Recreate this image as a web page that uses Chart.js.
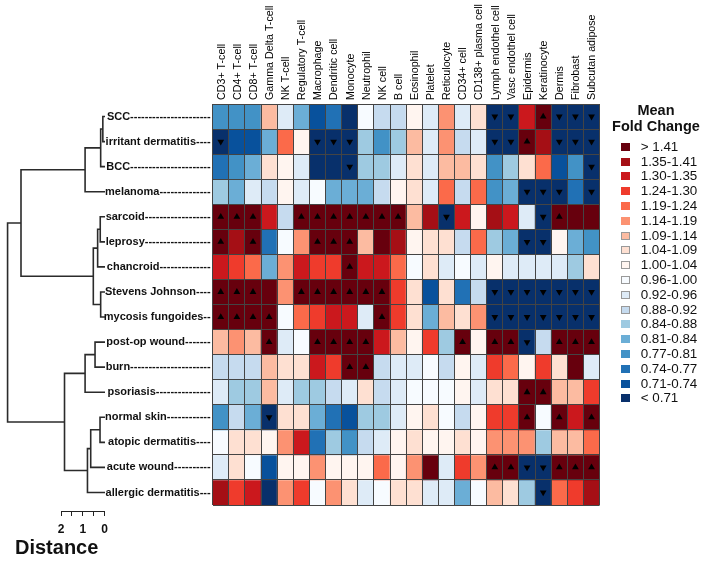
<!DOCTYPE html>
<html><head><meta charset="utf-8">
<script src="https://cdn.jsdelivr.net/npm/chart.js@4.4.1/dist/chart.umd.min.js"></script>
<style>
html,body{margin:0;padding:0;background:#fff;}
#wrap{position:relative;width:706px;height:564px;overflow:hidden;font-family:"Liberation Sans",Arial,sans-serif;}
canvas{position:absolute;}
#legend{position:absolute;left:600px;top:0;width:112px;height:420px;}
.lt{position:absolute;left:0;width:112px;text-align:center;font-weight:bold;font-size:14.5px;line-height:17px;color:#111;}
.li{position:absolute;left:40.7px;font-size:13.4px;line-height:14px;color:#111;white-space:nowrap;}
.lb{position:absolute;left:21px;width:9px;height:8px;box-sizing:border-box;border:1px solid #999;}
</style></head>
<body><div id="wrap">
<canvas id="heat" width="706" height="564" style="left:0;top:0"></canvas>
<canvas id="dendro" width="106" height="564" style="left:0;top:0"></canvas>
<canvas id="scalebar" width="130" height="84" style="left:0;top:480px"></canvas>
<div id="legend"></div>
</div>
<script>
// ---------- data ----------
const columns = ['CD3+ T-cell','CD4+ T-cell','CD8+ T-cell','Gamma Delta T-cell','NK T-cell','Regulatory T-cell','Macrophage','Dendritic cell','Monocyte','Neutrophil','NK cell','B cell','Eosinophil','Platelet','Reticulocyte','CD34+ cell','CD138+ plasma cell','Lymph endothel cell','Vasc endothel cell','Epidermis','Keratinocyte','Dermis','Fibrobast','Subcutan adipose'];
const diseases = ['SCC','irritant dermatitis','BCC','melanoma','sarcoid','leprosy','chancroid','Stevens Johnson','mycosis fungoides','post-op wound','burn','psoriasis','normal skin','atopic dermatitis','acute wound','allergic dermatitis'];

// mean fold change per cell type (column order above)
const fcSCC        = [0.79,0.79,0.79,1.11,0.94,0.82,0.72,0.75,0.68,0.98,0.90,0.90,1.02,0.94,1.16,0.94,1.06,0.68,0.68,1.32,1.45,0.68,0.68,0.68];
const fcIrritant   = [0.68,0.72,0.72,0.82,1.21,1.02,0.68,0.68,0.68,0.86,0.79,0.86,1.11,0.94,1.16,0.90,0.94,0.68,0.68,1.45,1.38,0.68,0.68,0.68];
const fcBCC        = [0.75,0.79,0.82,1.06,1.02,0.94,0.68,0.68,0.68,0.86,0.86,0.94,1.06,0.94,1.11,1.11,1.06,0.79,0.86,1.06,1.21,0.72,0.79,0.68];
const fcMelanoma   = [0.86,0.82,0.94,0.90,1.02,0.94,0.98,0.82,0.82,0.82,0.90,1.02,1.06,0.94,1.21,0.90,1.21,0.79,0.82,0.68,0.68,0.68,0.75,0.68];
const fcSarcoid    = [1.45,1.45,1.45,1.32,0.90,1.45,1.45,1.45,1.45,1.45,1.45,1.45,1.11,1.38,0.68,1.32,1.02,1.38,1.32,0.94,0.68,1.45,1.45,1.45];
const fcLeprosy    = [1.45,1.38,1.45,0.75,0.98,1.16,1.45,1.45,1.45,1.11,1.45,1.38,1.02,1.06,1.06,0.90,1.21,0.86,0.82,0.68,0.68,1.02,0.82,0.79];
const fcChancroid  = [1.32,1.27,1.21,0.82,1.16,1.32,1.27,1.27,1.45,1.32,1.32,1.21,0.98,1.06,0.94,0.98,0.94,1.02,0.94,0.94,0.94,0.94,0.86,1.06];
const fcStevens    = [1.45,1.45,1.45,1.45,1.16,1.45,1.45,1.45,1.45,1.45,1.45,1.27,1.06,0.72,1.06,0.75,0.90,0.68,0.68,0.68,0.68,0.68,0.68,0.68];
const fcMycosis    = [1.45,1.45,1.45,1.45,0.98,1.21,1.27,1.32,1.32,0.94,1.45,1.27,1.06,0.82,1.11,1.06,1.16,0.68,0.68,0.68,0.68,0.68,0.68,0.68];
const fcPostOp     = [1.11,1.16,1.11,1.45,0.94,0.98,1.45,1.45,1.45,1.45,1.32,1.11,1.02,1.27,0.86,1.45,1.02,1.45,1.45,0.68,0.90,1.45,1.45,1.45];
const fcBurn       = [0.90,0.90,0.90,1.11,1.06,1.06,1.32,1.27,1.45,1.45,0.90,0.94,0.94,0.98,0.90,1.02,0.94,1.27,1.21,1.02,1.27,1.06,1.45,0.94];
const fcPsoriasis  = [0.94,0.86,0.86,1.11,0.94,0.86,0.86,0.90,0.94,1.06,0.90,0.94,0.98,0.98,0.98,1.02,0.94,1.06,1.06,1.45,1.45,1.11,1.11,1.27];
const fcNormal     = [0.79,0.90,0.82,0.68,1.06,1.06,0.82,0.75,0.72,0.86,0.86,0.94,1.02,1.06,0.98,0.90,1.02,1.27,1.27,1.45,0.98,1.45,1.32,1.45];
const fcAtopic     = [0.98,1.06,1.06,1.02,1.16,1.32,0.75,0.86,0.79,0.90,0.94,1.02,1.06,1.02,1.02,1.06,1.02,1.16,1.16,1.16,0.86,1.11,1.11,1.21];
const fcAcute      = [0.94,1.06,0.98,0.72,1.02,1.02,1.16,1.02,1.02,1.02,1.21,1.02,1.16,1.45,0.94,1.27,1.16,1.45,1.45,0.68,0.68,1.45,1.45,1.45];
const fcAllergic   = [1.38,1.27,1.32,0.70,1.16,1.27,0.98,1.16,1.06,0.94,0.98,1.06,1.06,0.94,0.94,0.82,0.98,1.11,1.06,0.86,0.68,1.21,1.27,1.38];

// significance: 1 = significant increase, -1 = significant decrease
const sigSCC       = [0,0,0,0,0,0,0,0,0,0,0,0,0,0,0,0,0,-1,-1,0,1,-1,-1,-1];
const sigIrritant  = [-1,0,0,0,0,0,-1,-1,-1,0,0,0,0,0,0,0,0,-1,-1,1,0,-1,-1,-1];
const sigBCC       = [0,0,0,0,0,0,0,0,-1,0,0,0,0,0,0,0,0,0,0,0,0,0,0,-1];
const sigMelanoma  = [0,0,0,0,0,0,0,0,0,0,0,0,0,0,0,0,0,0,0,-1,-1,-1,0,-1];
const sigSarcoid   = [1,1,1,0,0,1,1,1,1,1,1,1,0,0,-1,0,0,0,0,0,-1,1,0,0];
const sigLeprosy   = [1,0,1,0,0,0,1,1,1,0,0,0,0,0,0,0,0,0,0,-1,-1,0,0,0];
const sigChancroid = [0,0,0,0,0,0,0,0,1,0,0,0,0,0,0,0,0,0,0,0,0,0,0,0];
const sigStevens   = [1,1,1,0,0,1,1,1,1,1,1,0,0,0,0,0,0,-1,-1,-1,-1,-1,-1,-1];
const sigMycosis   = [1,1,1,1,0,0,0,0,0,0,1,0,0,0,0,0,0,-1,-1,-1,-1,-1,-1,-1];
const sigPostOp    = [0,0,0,1,0,0,1,1,1,1,0,0,0,0,0,1,0,1,1,-1,0,1,1,1];
const sigBurn      = [0,0,0,0,0,0,0,0,1,1,0,0,0,0,0,0,0,0,0,0,0,0,0,0];
const sigPsoriasis = [0,0,0,0,0,0,0,0,0,0,0,0,0,0,0,0,0,0,0,1,1,0,0,0];
const sigNormal    = [0,0,0,-1,0,0,0,0,0,0,0,0,0,0,0,0,0,0,0,1,0,1,0,1];
const sigAtopic    = [0,0,0,0,0,0,0,0,0,0,0,0,0,0,0,0,0,0,0,0,0,0,0,0];
const sigAcute     = [0,0,0,0,0,0,0,0,0,0,0,0,0,0,0,0,0,1,1,-1,-1,1,1,1];
const sigAllergic  = [0,0,0,0,0,0,0,0,0,0,0,0,0,0,0,0,0,0,0,0,-1,0,0,0];

// colour key
const legendLabels = ['> 1.41','1.35-1.41','1.30-1.35','1.24-1.30','1.19-1.24','1.14-1.19','1.09-1.14','1.04-1.09','1.00-1.04','0.96-1.00','0.92-0.96','0.88-0.92','0.84-0.88','0.81-0.84','0.77-0.81','0.74-0.77','0.71-0.74','< 0.71'];
const binLower = [1.41,1.35,1.30,1.24,1.19,1.14,1.09,1.04,1.00,0.96,0.92,0.88,0.84,0.81,0.77,0.74,0.71];
const palette = ['#67000d','#a50f15','#cb181d','#ef3b2c','#fb6a4a','#fc9272','#fcbba1','#fee0d2','#fff5f0','#f7fbff','#deebf7','#c6dbef','#9ecae1','#6baed6','#4292c6','#2171b5','#08519c','#08306b'];

// dendrogram (hclust style: negative = leaf row, positive = earlier merge)
const mergeA = [-1, 1, 2, -5, 4, -8, 5, 3, -10, 9, -13, 11, 12, 10, 8];
const mergeB = [-2, -3, -4, -6, -7, -9, 6, 7, -11, -12, -14, -15, -16, 13, 14];
const mergeHeight = [0.10, 0.20, 0.92, 0.22, 0.34, 0.20, 0.54, 3.88, 0.46, 0.92, 0.23, 0.66, 0.81, 1.87, 4.50];

// ---------- build ----------
const rowValues = [fcSCC,fcIrritant,fcBCC,fcMelanoma,fcSarcoid,fcLeprosy,fcChancroid,fcStevens,fcMycosis,fcPostOp,fcBurn,fcPsoriasis,fcNormal,fcAtopic,fcAcute,fcAllergic];
const rowSig = [sigSCC,sigIrritant,sigBCC,sigMelanoma,sigSarcoid,sigLeprosy,sigChancroid,sigStevens,sigMycosis,sigPostOp,sigBurn,sigPsoriasis,sigNormal,sigAtopic,sigAcute,sigAllergic];

function colorFor(v){
  for (let i = 0; i < binLower.length; i++) if (v > binLower[i] + 1e-9) return palette[i];
  return palette[palette.length - 1];
}

const FONT = '"Liberation Sans", Arial, sans-serif';
Chart.defaults.font.family = FONT;

// row labels padded with dashes up to the heatmap
const mctx = document.createElement('canvas').getContext('2d');
mctx.font = 'bold 11px ' + FONT;
const dashW = mctx.measureText('-').width;
const rowLabels = diseases.map(n => {
  const k = Math.max(2, Math.round((104 - mctx.measureText(n).width) / dashW));
  return n + '-'.repeat(k);
});

const heatSets = rowValues.map((vals, r) => ({
  type: 'bar',
  label: diseases[r],
  data: vals.map(() => [r, r + 1]),
  backgroundColor: vals.map(colorFor),
  borderWidth: 0,
  barPercentage: 1,
  categoryPercentage: 1,
  grouped: false,
  yAxisID: 'y',
  order: 2
}));
const upPts = [], downPts = [];
rowSig.forEach((sig, r) => sig.forEach((s, c) => {
  if (s > 0) upPts.push({x: columns[c], y: r + 0.5});
  else if (s < 0) downPts.push({x: columns[c], y: r + 0.5});
}));
const triBase = {type: 'line', showLine: false, pointStyle: 'triangle', pointRadius: 3.9, pointHoverRadius: 3.9,
  pointBackgroundColor: '#000', pointBorderWidth: 0, borderWidth: 0, yAxisID: 'y', order: 0};

new Chart(document.getElementById('heat'), {
  type: 'bar',
  data: {
    labels: columns,
    datasets: heatSets.concat([
      Object.assign({}, triBase, {label: 'up', data: upPts, pointRotation: 0}),
      Object.assign({}, triBase, {label: 'down', data: downPts, pointRotation: 180})
    ])
  },
  options: {
    responsive: false, animation: false, events: [], devicePixelRatio: 1,
    layout: {padding: {left: 0, top: 0, right: 106.4, bottom: 59}},
    plugins: {legend: {display: false}, tooltip: {enabled: false}},
    scales: {
      x: {type: 'category', position: 'top', offset: true,
        grid: {display: true, offset: true, color: '#444', lineWidth: 1, drawTicks: false, z: 1},
        border: {display: false},
        ticks: {autoSkip: false, maxRotation: 90, minRotation: 90, padding: 4, labelOffset: 13.7, color: '#000', font: {size: 10.7}},
        afterFit: s => { s.height = 104; }},
      y: {type: 'linear', display: false, min: 0, max: 16, reverse: true},
      y2: {type: 'category', position: 'left', labels: rowLabels, offset: true,
        grid: {display: true, offset: true, color: '#444', lineWidth: 1, drawTicks: false, z: 1},
        border: {display: false},
        ticks: {autoSkip: false, padding: 2, color: '#111', font: {size: 11, weight: 'bold'}},
        afterFit: s => { s.width = 212.7; }}
    }
  }
});

// dendrogram
const nodes = [];
function nodeOf(id){ return id < 0 ? {h: 0, y: -id - 0.5} : nodes[id - 1]; }
const dendroSets = mergeA.map((a, i) => {
  const A = nodeOf(a), B = nodeOf(mergeB[i]), h = mergeHeight[i];
  nodes.push({h: h, y: (A.y + B.y) / 2});
  return {data: [{x: A.h, y: A.y}, {x: h, y: A.y}, {x: h, y: B.y}, {x: B.h, y: B.y}],
    showLine: true, pointRadius: 0, borderColor: '#2b2b2b', borderWidth: 1.6, clip: false, tension: 0};
});
const pxPerUnit = 21.65;
new Chart(document.getElementById('dendro'), {
  type: 'scatter',
  data: {datasets: dendroSets},
  options: {
    responsive: false, animation: false, events: [], devicePixelRatio: 1,
    layout: {padding: {left: 105 - 4.6 * pxPerUnit, right: 1, top: 104, bottom: 59}},
    plugins: {legend: {display: false}, tooltip: {enabled: false}},
    scales: {
      x: {type: 'linear', display: false, min: 0, max: 4.6, reverse: true},
      y: {type: 'linear', display: false, min: 0, max: 16, reverse: true}
    }
  }
});

// distance scale bar
new Chart(document.getElementById('scalebar'), {
  type: 'scatter',
  data: {datasets: []},
  options: {
    responsive: false, animation: false, events: [], devicePixelRatio: 1,
    layout: {padding: {left: 15, right: 130 - (105 - 0.3), top: 27, bottom: 4}},
    plugins: {legend: {display: false}, tooltip: {enabled: false},
      title: {display: true, text: 'Distance', position: 'bottom', align: 'start', padding: 0, color: '#111',
        font: {size: 20, weight: 'bold'}}},
    scales: {
      x: {type: 'linear', min: 0, max: 2, reverse: true, position: 'bottom',
        ticks: {stepSize: 0.5, autoSkip: false, maxRotation: 0, padding: 6, color: '#111', font: {size: 12, weight: 'bold'},
          callback: v => Number.isInteger(v) ? String(v) : ''},
        grid: {drawOnChartArea: false, drawTicks: true, tickLength: 5, color: '#222', lineWidth: 1},
        border: {display: true, color: '#222', width: 1},
        afterFit: s => { s.height = 25; }},
      y: {type: 'linear', display: true, ticks: {display: false}, grid: {display: false}, border: {display: false},
        afterFit: s => { s.width = 46; }}
    }
  }
});

// colour key
const lg = document.getElementById('legend');
const t1 = document.createElement('div'); t1.className = 'lt'; t1.style.top = '101.5px'; t1.textContent = 'Mean'; lg.appendChild(t1);
const t2 = document.createElement('div'); t2.className = 'lt'; t2.style.top = '118.2px'; t2.textContent = 'Fold Change'; lg.appendChild(t2);
legendLabels.forEach((txt, i) => {
  const cy = 146.7 + i * 14.8;
  const b = document.createElement('div'); b.className = 'lb';
  b.style.top = (cy - 4) + 'px'; b.style.background = palette[i];
  b.style.borderColor = (i >= 6 && i <= 11) ? '#999' : palette[i];
  lg.appendChild(b);
  const l = document.createElement('div'); l.className = 'li';
  l.style.top = (cy - 7) + 'px'; l.textContent = txt; lg.appendChild(l);
});
</script>
</body></html>
